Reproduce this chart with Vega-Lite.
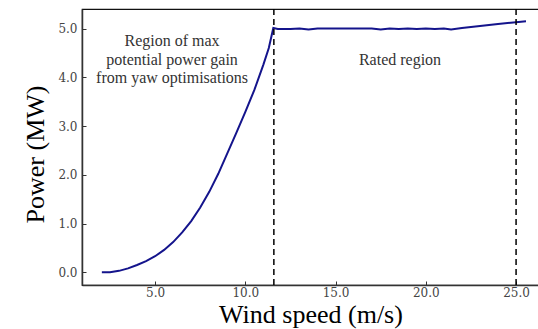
{
  "$schema": "https://vega.github.io/schema/vega-lite/v6.json",
  "autosize": {"type": "none"},
  "padding": {"left": 82, "top": 9, "right": 0, "bottom": 44},
  "width": 457,
  "height": 276,
  "config": {
    "view": {"stroke": "#111", "strokeWidth": 1.2},
    "axis": {
      "grid": false,
      "domainColor": "#333",
      "domainWidth": 1.5,
      "tickColor": "#333",
      "tickSize": -4,
      "tickWidth": 1,
      "labelFont": "DejaVu Serif",
      "labelFontSize": 12,
      "labelColor": "#444",
      "titleFont": "Liberation Serif",
      "titleFontSize": 26,
      "titleFontWeight": "normal",
      "titleColor": "#000"
    }
  },
  "layer": [
    {
      "data": {"values": [
        {"wind": 2.05, "power": 0.0},
        {"wind": 2.5, "power": 0.0},
        {"wind": 3.0, "power": 0.03},
        {"wind": 3.5, "power": 0.08},
        {"wind": 4.0, "power": 0.15},
        {"wind": 4.5, "power": 0.23},
        {"wind": 5.0, "power": 0.33},
        {"wind": 5.5, "power": 0.46},
        {"wind": 6.0, "power": 0.62},
        {"wind": 6.5, "power": 0.82},
        {"wind": 7.0, "power": 1.05},
        {"wind": 7.5, "power": 1.33},
        {"wind": 8.0, "power": 1.65},
        {"wind": 8.5, "power": 2.02},
        {"wind": 9.0, "power": 2.44},
        {"wind": 9.5, "power": 2.86},
        {"wind": 10.0, "power": 3.29},
        {"wind": 10.5, "power": 3.74},
        {"wind": 11.0, "power": 4.26},
        {"wind": 11.3, "power": 4.6},
        {"wind": 11.55, "power": 5.01},
        {"wind": 11.8, "power": 4.99},
        {"wind": 12.5, "power": 4.99},
        {"wind": 13.0, "power": 5.0},
        {"wind": 13.5, "power": 4.98},
        {"wind": 14.0, "power": 5.0},
        {"wind": 15.0, "power": 5.0},
        {"wind": 16.0, "power": 5.0},
        {"wind": 17.0, "power": 5.0},
        {"wind": 17.5, "power": 4.98},
        {"wind": 18.0, "power": 5.0},
        {"wind": 18.5, "power": 4.99},
        {"wind": 19.0, "power": 5.0},
        {"wind": 19.5, "power": 4.99},
        {"wind": 20.0, "power": 5.0},
        {"wind": 20.5, "power": 4.99},
        {"wind": 21.0, "power": 5.0},
        {"wind": 21.4, "power": 4.98},
        {"wind": 22.0, "power": 5.01},
        {"wind": 23.0, "power": 5.05},
        {"wind": 24.0, "power": 5.09},
        {"wind": 25.0, "power": 5.13},
        {"wind": 25.55, "power": 5.15}
      ]},
      "mark": {"type": "line", "color": "#14148c", "strokeWidth": 2, "clip": true},
      "encoding": {
        "x": {"field": "wind", "type": "quantitative", "scale": {"domain": [0.95, 26.27], "nice": false, "zero": false},
          "axis": {"title": "Wind speed (m/s)", "values": [5, 10, 15, 20, 25], "format": ".1f", "labelPadding": 6, "titlePadding": 3}},
        "y": {"field": "power", "type": "quantitative", "scale": {"domain": [-0.26, 5.4], "nice": false, "zero": false},
          "axis": {"title": "Power (MW)", "values": [0, 1, 2, 3, 4, 5], "format": ".1f", "labelPadding": 9, "titlePadding": 9, "titleY": 145}}
      }
    },
    {
      "data": {"values": [{"wind": 11.58}, {"wind": 25.0}]},
      "mark": {"type": "rule", "color": "#000", "strokeWidth": 1.5, "strokeDash": [6, 4]},
      "encoding": {"x": {"field": "wind", "type": "quantitative"}}
    },
    {
      "data": {"values": [
        {"wind": 5.94, "power": 4.74, "label": ["Region of max", "potential power gain", "from yaw optimisations"]},
        {"wind": 18.57, "power": 4.36, "label": ["Rated region"]}
      ]},
      "mark": {"type": "text", "font": "Liberation Serif", "fontSize": 16, "color": "#333", "lineHeight": 18.5, "align": "center", "baseline": "middle"},
      "encoding": {
        "x": {"field": "wind", "type": "quantitative"},
        "y": {"field": "power", "type": "quantitative"},
        "text": {"field": "label"}
      }
    }
  ]
}
